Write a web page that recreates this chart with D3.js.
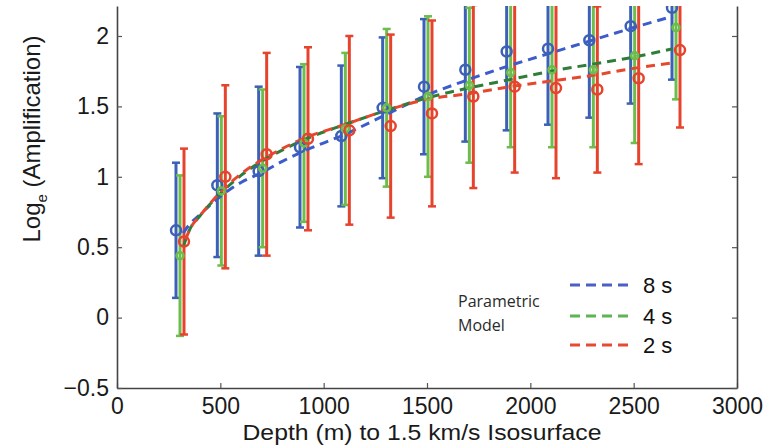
<!DOCTYPE html>
<html lang="en">
<head>
  <meta charset="utf-8">
  <script src="https://d3js.org/d3.v7.min.js"></script>
  <style>
    body { margin: 0; background: #fff; }
    svg { display: block; }
  </style>
</head>
<body>
<script>
  // depth bins (m)
  const depths = [300, 500, 700, 900, 1100, 1300, 1500, 1700, 1900, 2100, 2300, 2500, 2700];

  // observed log amplification, mean and std per period
  const mean8s = [0.62, 0.94, 1.04, 1.21, 1.29, 1.49, 1.64, 1.76, 1.89, 1.91, 1.97, 2.07, 2.20];
  const sd8s   = [0.48, 0.51, 0.60, 0.57, 0.50, 0.50, 0.48, 0.51, 0.56, 0.54, 0.55, 0.55, 0.51];
  const mean4s = [0.44, 0.90, 1.06, 1.24, 1.34, 1.49, 1.57, 1.65, 1.74, 1.76, 1.76, 1.86, 2.06];
  const sd4s   = [0.57, 0.53, 0.56, 0.56, 0.54, 0.56, 0.57, 0.55, 0.53, 0.55, 0.55, 0.62, 0.51];
  const mean2s = [0.54, 1.00, 1.16, 1.27, 1.33, 1.36, 1.45, 1.57, 1.64, 1.63, 1.62, 1.70, 1.90];
  const sd2s   = [0.66, 0.65, 0.72, 0.65, 0.67, 0.65, 0.66, 0.65, 0.61, 0.64, 0.59, 0.61, 0.55];

  // parametric model curves
  const modelDepths = [320, 350, 400, 500, 600, 700, 800, 900, 1100, 1300, 1500, 1700, 1900, 2100, 2300, 2500, 2690];
  const model8s = [0.60, 0.66, 0.73, 0.86, 0.96, 1.03, 1.11, 1.18, 1.30, 1.44, 1.58, 1.69, 1.79, 1.88, 1.97, 2.06, 2.14];
  const model4s = [0.50, 0.62, 0.72, 0.88, 1.01, 1.11, 1.19, 1.26, 1.37, 1.47, 1.56, 1.63, 1.69, 1.75, 1.80, 1.85, 1.91];
  const model2s = [0.50, 0.62, 0.72, 0.89, 1.02, 1.12, 1.20, 1.27, 1.37, 1.47, 1.55, 1.59, 1.64, 1.68, 1.72, 1.77, 1.81];

  const legendLabels = ["8 s", "4 s", "2 s"];
  const xTicks = [0, 500, 1000, 1500, 2000, 2500, 3000];
  const yTicks = [-0.5, 0, 0.5, 1, 1.5, 2];

  const W = 779, H = 447;
  const pLeft = 117, pRight = 737, pTop = 6, pBottom = 388;

  const series = [
    {mean: mean8s, sd: sd8s, model: model8s, bar: "#3b60b6", dash: "#3c5ccc", leg: "#4a5fc8", dx: -3, r: 5},
    {mean: mean4s, sd: sd4s, model: model4s, bar: "#6cbd4c", dash: "#2f7d38", leg: "#5cb552", dx: 1, r: 3.5},
    {mean: mean2s, sd: sd2s, model: model2s, bar: "#e6432d", dash: "#e6482f", leg: "#e54a32", dx: 5, r: 5}
  ];

  const svg = d3.select("body").append("svg")
    .attr("width", W).attr("height", H);

  const x = d3.scaleLinear().domain([0, 3000]).range([pLeft, pRight]);
  const y = d3.scaleLinear().domain([-0.5, 2.213]).range([pBottom, pTop]);

  svg.append("defs").append("clipPath").attr("id", "plot")
    .append("rect").attr("x", pLeft).attr("y", pTop)
    .attr("width", pRight - pLeft).attr("height", pBottom - pTop);

  const plot = svg.append("g").attr("clip-path", "url(#plot)");

  // error bars
  series.forEach(function(s) {
    const g = plot.append("g").attr("transform", "translate(" + s.dx + ",0)");
    depths.forEach(function(d, i) {
      const lo = s.mean[i] - s.sd[i], hi = s.mean[i] + s.sd[i];
      g.append("line")
        .attr("x1", x(d)).attr("x2", x(d))
        .attr("y1", y(lo)).attr("y2", y(hi))
        .attr("stroke", s.bar).attr("stroke-width", 3);
      [lo, hi].forEach(function(v) {
        g.append("line")
          .attr("x1", x(d) - 4).attr("x2", x(d) + 4)
          .attr("y1", y(v)).attr("y2", y(v))
          .attr("stroke", s.bar).attr("stroke-width", 2.5);
      });
    });
  });

  // model curves
  const line = d3.line()
    .x(function(d) { return x(d[0]); })
    .y(function(d) { return y(d[1]); })
    .curve(d3.curveMonotoneX);

  series.forEach(function(s, k) {
    plot.append("path")
      .datum(modelDepths.map(function(d, i) { return [d, s.model[i]]; }))
      .attr("d", line)
      .attr("fill", "none")
      .attr("stroke", s.dash)
      .attr("stroke-width", 3)
      .attr("stroke-dasharray", "9,6")
      .attr("stroke-dashoffset", k == 2 ? 7 : 0);
  });

  // markers
  series.forEach(function(s) {
    plot.append("g").attr("transform", "translate(" + s.dx + ",0)")
      .selectAll("circle").data(depths).enter()
      .append("circle")
      .attr("cx", function(d) { return x(d); })
      .attr("cy", function(d, i) { return y(s.mean[i]); })
      .attr("r", s.r)
      .attr("fill", "none")
      .attr("stroke", s.bar)
      .attr("stroke-width", 2.5);
  });

  // axes
  const font = "'Liberation Sans', Arial, sans-serif";
  const fmt = d3.format("");

  const xAxis = svg.append("g")
    .attr("transform", "translate(0," + pBottom + ")")
    .call(d3.axisBottom(x).tickValues(xTicks).tickFormat(fmt).tickSize(-5).tickSizeOuter(0).tickPadding(10));
  const yAxis = svg.append("g")
    .attr("transform", "translate(" + pLeft + ",0)")
    .call(d3.axisLeft(y).tickValues(yTicks).tickFormat(fmt).tickSize(-5).tickSizeOuter(0).tickPadding(8));
  const yRight = svg.append("g")
    .attr("transform", "translate(" + pRight + ",0)")
    .call(d3.axisRight(y).tickValues(yTicks).tickSize(-5).tickSizeOuter(0).tickFormat(""));

  [xAxis, yAxis, yRight].forEach(function(a) {
    a.select(".domain").attr("stroke", "#444").attr("stroke-width", 1.6);
    a.selectAll(".tick line").attr("stroke", "#555").attr("stroke-width", 1.2);
    a.selectAll("text")
      .attr("fill", "#1a1a1a")
      .style("font-family", font)
      .style("font-size", "23px");
  });

  // axis titles
  svg.append("text")
    .attr("x", 422).attr("y", 440)
    .attr("text-anchor", "middle")
    .attr("textLength", 359)
    .attr("lengthAdjust", "spacingAndGlyphs")
    .style("font-family", font).style("font-size", "22px")
    .attr("fill", "#1a1a1a")
    .text("Depth (m) to 1.5 km/s Isosurface");

  const yt = svg.append("text")
    .attr("transform", "translate(40,139) rotate(-90)")
    .attr("text-anchor", "middle")
    .style("font-family", font).style("font-size", "24px")
    .attr("fill", "#1a1a1a");
  yt.append("tspan").text("Log");
  yt.append("tspan").attr("dy", 7).style("font-size", "15px").text("e");
  yt.append("tspan").attr("dy", -7).text(" (Amplification)");

  // legend
  const leg = svg.append("g");
  leg.append("text").attr("x", 458).attr("y", 307)
    .style("font-family", "'Open Sans', sans-serif").style("font-size", "16px")
    .attr("fill", "#2a2a2a").text("Parametric");
  leg.append("text").attr("x", 458).attr("y", 331)
    .style("font-family", "'Open Sans', sans-serif").style("font-size", "16px")
    .attr("fill", "#2a2a2a").text("Model");

  const legY = [285, 316, 345];
  series.forEach(function(s, k) {
    leg.append("line")
      .attr("x1", 570).attr("x2", 630)
      .attr("y1", legY[k]).attr("y2", legY[k])
      .attr("stroke", s.leg).attr("stroke-width", 3)
      .attr("stroke-dasharray", "10,6");
    leg.append("text")
      .attr("x", 643).attr("y", legY[k] + 8)
      .style("font-family", font).style("font-size", "22px")
      .attr("fill", "#111")
      .text(legendLabels[k]);
  });
</script>
</body>
</html>
